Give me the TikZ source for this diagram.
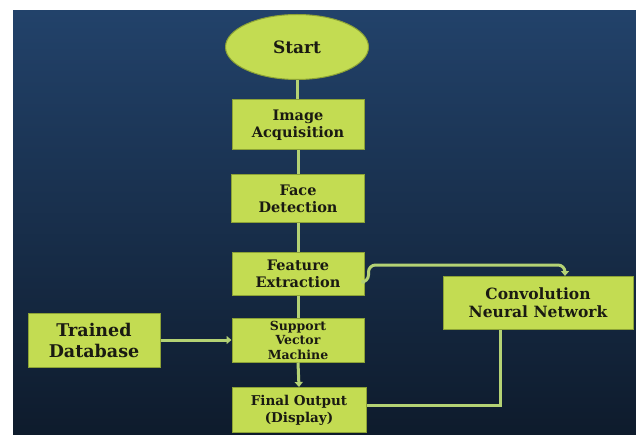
\documentclass[tikz,border=0pt]{standalone}
\usepackage{fontspec}
\setmainfont{DejaVu Serif}
\usetikzlibrary{shapes.geometric,arrows.meta}
\definecolor{bgtop}{HTML}{22426A}
\definecolor{bgbot}{HTML}{0E1B2C}
\definecolor{boxfill}{HTML}{C3DC52}
\definecolor{boxedge}{HTML}{8CA236}
\definecolor{connc}{HTML}{B4D274}
\definecolor{txtc}{HTML}{1A1A12}
\tikzset{
  box/.style={draw=boxedge, line width=1pt, fill=boxfill, text=txtc, align=center,
    inner sep=0pt, font=\bfseries},
  conn/.style={draw=connc, line width=3pt},
  arr/.style={conn, -{Triangle[length=5pt,width=8pt]}}
}
\begin{document}
\begin{tikzpicture}[x=1pt,y=-1pt]
\useasboundingbox (0,0) rectangle (636,435);
\fill[white] (0,0) rectangle (636,435);
\shade[top color=bgtop, bottom color=bgbot] (13,11) rectangle (636,435);
% nodes
\node[box, ellipse, minimum width=143pt, minimum height=65pt, font=\bfseries\fontsize{17}{19}\selectfont] (start) at (297,47) {Start};
\node[box, minimum width=132pt, minimum height=50pt, font=\bfseries\fontsize{14.5}{17}\selectfont] (ia) at (298,125) {Image\\Acquisition};
\node[box, minimum width=133pt, minimum height=48pt, font=\bfseries\fontsize{14.5}{17}\selectfont] (fd) at (298,199) {Face\\Detection};
\node[box, minimum width=132pt, minimum height=42pt, font=\bfseries\fontsize{14.5}{17}\selectfont] (fe) at (298,274) {Feature\\Extraction};
\node[box, minimum width=132pt, minimum height=44pt, font=\bfseries\fontsize{12.5}{14.5}\selectfont] (svm) at (298,340) {Support\\Vector\\Machine};
\node[box, minimum width=134pt, minimum height=45pt, font=\bfseries\fontsize{13.5}{17}\selectfont] (fo) at (299,410) {Final Output\\(Display)};
\node[box, minimum width=132pt, minimum height=54pt, font=\bfseries\fontsize{17.5}{21}\selectfont] (td) at (94,340) {Trained\\Database};
\node[box, minimum width=190pt, minimum height=53pt, font=\bfseries\fontsize{15.5}{18}\selectfont] (cnn) at (538,303) {Convolution\\Neural Network};
% connectors
\draw[conn] (start.south) -- (start.south |- ia.north);
\draw[conn] (ia.south) -- (fd.north);
\draw[conn] (fd.south) -- (fe.north);
\draw[conn] (fe.south) -- (svm.north);
\draw[arr] (svm.south) -- (fo.north);
\draw[arr] (td.east) -- (td.east -| svm.west);
\draw[arr, rounded corners=7pt] ([yshift=-8pt]fe.east) -- ++(4pt,0) |- (565,265) -- (565,0 |- cnn.north);
\coordinate (cnnout) at (500,0 |- cnn.south);
\draw[conn] (cnnout) |- ([yshift=5pt]fo.east);
\end{tikzpicture}
\end{document}
